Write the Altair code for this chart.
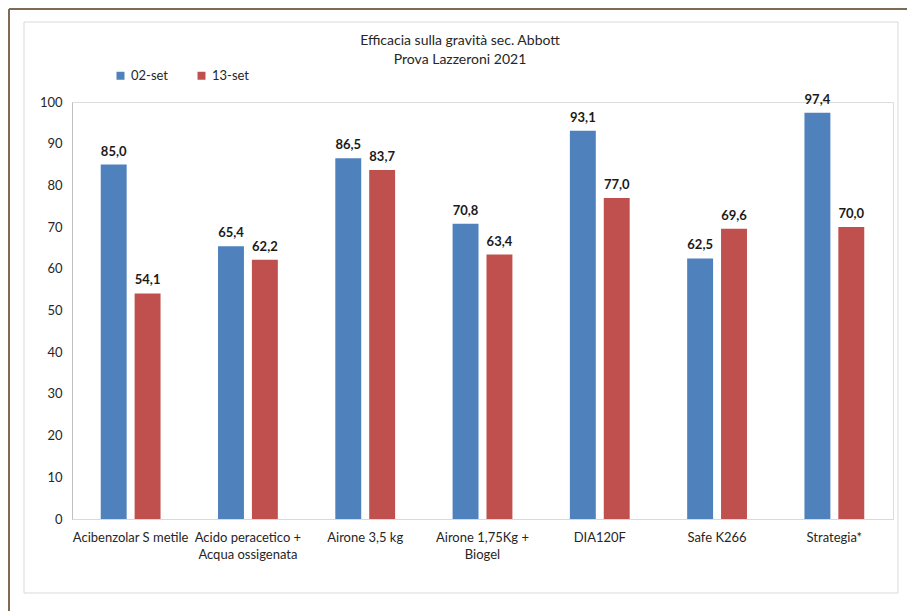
import altair as alt
import pandas as pd

# Treatments (a "|" marks a line break in the axis label)
categories = [
    "Acibenzolar S metile",
    "Acido peracetico +|Acqua ossigenata",
    "Airone 3,5 kg",
    "Airone 1,75Kg +|Biogel",
    "DIA120F",
    "Safe K266",
    "Strategia*",
]
series = ["02-set", "13-set"]
values_02_set = [85.0, 65.4, 86.5, 70.8, 93.1, 62.5, 97.4]
values_13_set = [54.1, 62.2, 83.7, 63.4, 77.0, 69.6, 70.0]
y_ticks = [0, 10, 20, 30, 40, 50, 60, 70, 80, 90, 100]
colors = ["#4F81BD", "#C0504D"]
title_lines = ["Efficacia sulla gravità sec. Abbott", "Prova Lazzeroni  2021"]

rows = []
for name, vals in zip(series, [values_02_set, values_13_set]):
    for cat, v in zip(categories, vals):
        rows.append({"cat": cat, "serie": name, "val": v,
                     "lab": f"{v:.1f}".replace(".", ",")})
df = pd.DataFrame(rows)

FONT = "Lato"
W, H = 821, 417

x_enc = alt.X(
    "cat:N", sort=categories,
    scale=alt.Scale(paddingInner=0.49, paddingOuter=0.245),
    axis=alt.Axis(
        title=None, labelAngle=0, ticks=False, domainColor="#D9D9D9",
        labelExpr="split(datum.label, '|')", labelFontSize=13,
        labelColor="#262626", labelPadding=12, labelLineHeight=17,
        labelFont=FONT,
    ),
)
xoff_enc = alt.XOffset("serie:N", sort=series,
                       scale=alt.Scale(paddingInner=0.235, paddingOuter=0))
y_enc = alt.Y(
    "val:Q", scale=alt.Scale(domain=[0, 100], nice=False),
    axis=alt.Axis(
        title=None, values=y_ticks, ticks=False, grid=False,
        domainColor="#BFBFBF", labelFontSize=13, labelColor="#262626",
        labelPadding=10, labelFont=FONT,
    ),
)

bars = alt.Chart(df).mark_bar().encode(
    x=x_enc, xOffset=xoff_enc, y=y_enc,
    color=alt.Color(
        "serie:N", sort=series,
        scale=alt.Scale(domain=series, range=colors),
        legend=alt.Legend(
            title=None, orient="none", direction="horizontal",
            legendX=42, legendY=-33, symbolType="square", symbolSize=64,
            symbolStrokeWidth=0, labelFontSize=13, labelColor="#262626",
            labelFont=FONT, columnPadding=26, labelOffset=4,
        ),
    ),
)

value_labels = alt.Chart(df).mark_text(
    baseline="bottom", dy=-6, fontSize=13, fontWeight="bold",
    color="#1a1a1a", font=FONT,
).encode(x=x_enc, xOffset=xoff_enc, y=y_enc, text="lab:N")

one = alt.Data(values=[{}])

# outer brown border (left and top edges)
brown_left = alt.Chart(one).mark_rule(color="#7F6A55", strokeWidth=2).encode(
    x=alt.value(-63), y=alt.value(-93), y2=alt.value(H + 200))
brown_top = alt.Chart(one).mark_rule(color="#7F6A55", strokeWidth=2).encode(
    x=alt.value(-63), x2=alt.value(W + 200), y=alt.value(-93))

# light chart-area frame
frame = alt.Chart(one).mark_rect(
    fillOpacity=0, stroke="#D9D9D9", strokeWidth=1).encode(
    x=alt.value(-48), x2=alt.value(826), y=alt.value(-80), y2=alt.value(491))

# two-line chart heading
title_marks = [
    alt.Chart(one).mark_text(
        fontSize=14, color="#262626", font=FONT, baseline="middle", align="center",
    ).encode(x=alt.value(388), y=alt.value(ypos), text=alt.value(line))
    for line, ypos in zip(title_lines, [-61, -42])
]

chart = alt.layer(frame, brown_left, brown_top, bars, value_labels, *title_marks).properties(
    width=W, height=H,
    autosize=alt.AutoSizeParams(type="none"),
    padding={"left": 72, "top": 102, "right": 907 - 72 - W, "bottom": 611 - 102 - H},
    background="white",
).configure_view(stroke=None).configure(font=FONT)

chart.save("out.html", embed_options={"renderer": "svg", "actions": False})
